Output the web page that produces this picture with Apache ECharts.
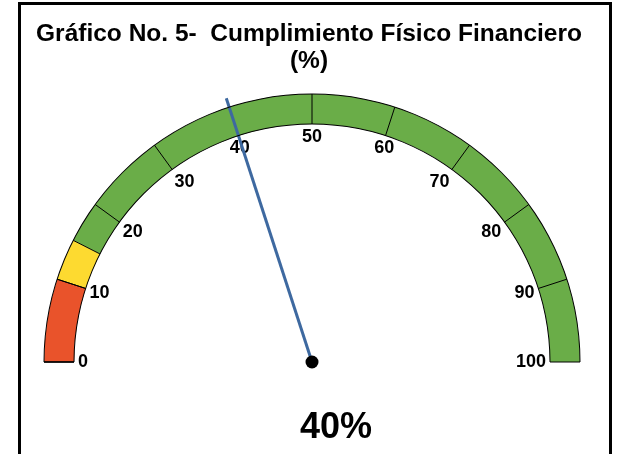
<!DOCTYPE html>
<html>
<head>
<meta charset="utf-8">
<script src="https://cdn.jsdelivr.net/npm/echarts@6/dist/echarts.min.js"></script>
<style>
html,body{margin:0;padding:0;background:#fff;}
#c{width:618px;height:454px;}
</style>
</head>
<body>
<div id="c"></div>
<script>
const titleText = 'Gráfico No. 5-  Cumplimiento Físico Financiero\n(%)';
const gaugeMin = 0;
const gaugeMax = 100;
const splitCount = 10;
const bandEnds = [10, 15, 100];
const bandColors = ['#E9532B', '#FDDA30', '#6AAD48'];
const gaugeValue = 40;

const chart = echarts.init(document.getElementById('c'));
const CX = 312, CY = 362, R = 268, W = 30;
const fracColors = bandEnds.map((v, i) => [(v - gaugeMin) / (gaugeMax - gaugeMin), bandColors[i]]);
const labelFont = {color: '#000', fontSize: 18, fontWeight: 'bold', fontFamily: 'Liberation Sans, Arial'};
const base = {
  type: 'gauge', center: [CX, CY], startAngle: 180, endAngle: 0,
  min: gaugeMin, max: gaugeMax, splitNumber: splitCount,
  pointer: {show: false}, anchor: {show: false}, title: {show: false}, detail: {show: false},
  axisTick: {show: false}, axisLabel: {show: false}, splitLine: {show: false},
  silent: true, animation: false
};
const boundaryLines = bandEnds.slice(0, -1).map(v => Object.assign({}, base, {
  radius: R, min: gaugeMin, max: v, splitNumber: 1,
  endAngle: 180 - 180 * (v - gaugeMin) / (gaugeMax - gaugeMin),
  axisLine: {show: true, lineStyle: {width: W, color: [[1, 'rgba(0,0,0,0)']]}},
  splitLine: {show: true, distance: -W, length: W, lineStyle: {color: '#000', width: 1}}
}));
chart.setOption({
  animation: false,
  title: {
    text: titleText, left: 'center', top: 16,
    textStyle: {fontFamily: 'Liberation Sans, Arial', fontWeight: 'bold', fontSize: 24.5, color: '#000', lineHeight: 27}
  },
  graphic: [{
    type: 'rect', shape: {x: 19.5, y: 3.5, width: 591, height: 470},
    style: {fill: 'none', stroke: '#000', lineWidth: 3}, silent: true
  }],
  series: [
    Object.assign({}, base, {
      radius: R,
      axisLine: {show: true, lineStyle: {width: W, color: fracColors}},
      splitLine: {show: true, distance: -W, length: W, lineStyle: {color: '#000', width: 1}},
      axisLabel: Object.assign({
        show: true, distance: 34,
        formatter: function (v) {
          const d = Math.min(v - gaugeMin, gaugeMax - v);
          if (d === 20) return '{lo|' + v + '}';
          if (d === 10) return '{mid|' + v + '}';
          return '{n|' + v + '}';
        },
        rich: {
          n: Object.assign({}, labelFont),
          mid: Object.assign({padding: [6, 0, 0, 0]}, labelFont),
          lo: Object.assign({padding: [15, 0, 0, 0]}, labelFont)
        }
      }, labelFont),
      pointer: {show: true, icon: 'rect', width: 3, length: '103.5%', itemStyle: {color: '#3E69A0'}},
      anchor: {show: true, showAbove: true, size: 13, itemStyle: {color: '#000'}},
      detail: {show: true, offsetCenter: [24, 66], formatter: '{value}%', color: '#000', fontSize: 36, fontWeight: 'bold', fontFamily: 'Liberation Sans, Arial'},
      data: [{value: gaugeValue}]
    }),
    Object.assign({}, base, {radius: R + 0.5, axisLine: {show: true, lineStyle: {width: 1, color: [[1, '#000']]}}}),
    Object.assign({}, base, {radius: R - W + 0.5, axisLine: {show: true, lineStyle: {width: 1, color: [[1, '#000']]}}}),
    ...boundaryLines
  ]
});
</script>
</body>
</html>
